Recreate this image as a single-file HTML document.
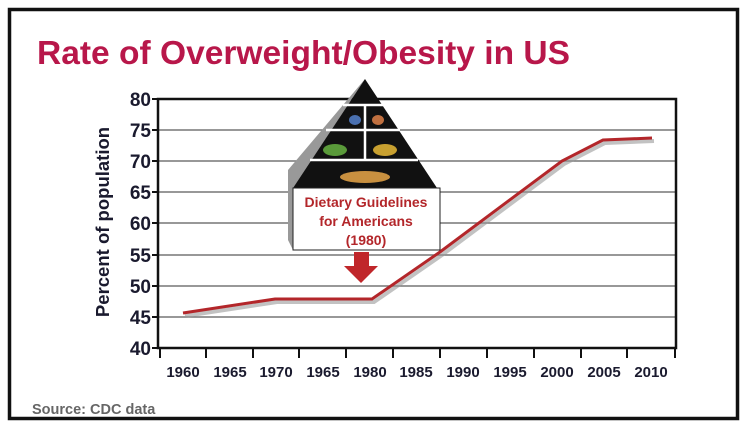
<!DOCTYPE html>
<html><head><meta charset="utf-8"><style>
body{margin:0;background:#fff;}
svg{display:block;font-family:"Liberation Sans",Arial,sans-serif;}
</style></head><body>
<svg width="750" height="432" viewBox="0 0 750 432">
<rect x="0" y="0" width="750" height="432" fill="#fff"/>
<rect x="9.5" y="9.5" width="728" height="409" fill="none" stroke="#111" stroke-width="3.5"/>
<text x="37" y="64" font-size="33" font-weight="bold" fill="#b8174a" textLength="533" lengthAdjust="spacingAndGlyphs">Rate of Overweight/Obesity in US</text>
<g stroke="#777" stroke-width="1.5">
<line x1="158" y1="130" x2="676" y2="130"/><line x1="158" y1="161" x2="676" y2="161"/>
<line x1="158" y1="192" x2="676" y2="192"/><line x1="158" y1="223" x2="676" y2="223"/>
<line x1="158" y1="255" x2="676" y2="255"/><line x1="158" y1="286" x2="676" y2="286"/>
<line x1="158" y1="317" x2="676" y2="317"/>
</g>
<rect x="158" y="99" width="518" height="249" fill="none" stroke="#111" stroke-width="2.5"/>
<g stroke="#111" stroke-width="2">
<line x1="152" y1="99" x2="158" y2="99"/><line x1="152" y1="130" x2="158" y2="130"/><line x1="152" y1="161" x2="158" y2="161"/><line x1="152" y1="192" x2="158" y2="192"/><line x1="152" y1="223" x2="158" y2="223"/><line x1="152" y1="255" x2="158" y2="255"/><line x1="152" y1="286" x2="158" y2="286"/><line x1="152" y1="317" x2="158" y2="317"/><line x1="152" y1="348" x2="158" y2="348"/>
<line x1="160" y1="348" x2="160" y2="358"/><line x1="206" y1="348" x2="206" y2="358"/><line x1="253" y1="348" x2="253" y2="358"/><line x1="299" y1="348" x2="299" y2="358"/><line x1="346" y1="348" x2="346" y2="358"/><line x1="393" y1="348" x2="393" y2="358"/><line x1="440" y1="348" x2="440" y2="358"/><line x1="487" y1="348" x2="487" y2="358"/><line x1="534" y1="348" x2="534" y2="358"/><line x1="581" y1="348" x2="581" y2="358"/><line x1="627" y1="348" x2="627" y2="358"/><line x1="675" y1="348" x2="675" y2="358"/>
</g>
<g font-size="19" font-weight="bold" fill="#1a1a2e" text-anchor="end">
<text x="151" y="106">80</text><text x="151" y="137">75</text><text x="151" y="168">70</text><text x="151" y="199">65</text><text x="151" y="230">60</text><text x="151" y="262">55</text><text x="151" y="293">50</text><text x="151" y="324">45</text><text x="151" y="355">40</text>
</g>
<g font-size="15" font-weight="bold" fill="#1a1a2e" text-anchor="middle">
<text x="183" y="377">1960</text><text x="230" y="377">1965</text><text x="276" y="377">1970</text><text x="323" y="377">1965</text><text x="370" y="377">1980</text><text x="416" y="377">1985</text><text x="463" y="377">1990</text><text x="510" y="377">1995</text><text x="557" y="377">2000</text><text x="604" y="377">2005</text><text x="651" y="377">2010</text>
</g>
<text transform="translate(109,222) rotate(-90)" font-size="18.5" font-weight="bold" fill="#1a1a2e" text-anchor="middle">Percent of population</text>
<text x="32" y="414" font-size="14.5" font-weight="bold" fill="#666">Source: CDC data</text>
<polyline points="185,316 277,302 374,302 442,255 564,164 605,143 654,141" fill="none" stroke="#999" stroke-width="4" opacity="0.6"/>
<polyline points="183,313 275,299 372,299 440,252 562,161 603,140 652,138" fill="none" stroke="#b3262a" stroke-width="3"/>
<polygon points="288,170 365,79 293,188 293,250 288,240" fill="#999"/>
<polygon points="365,79 293,188 437,188" fill="#111"/>
<g stroke="#fff" stroke-width="2.5">
<line x1="343" y1="105" x2="383" y2="105"/><line x1="326" y1="130" x2="400" y2="130"/><line x1="310" y1="160" x2="418" y2="160"/>
<line x1="365" y1="105" x2="365" y2="160"/>
</g>
<ellipse cx="335" cy="150" rx="12" ry="6" fill="#5a9a3a"/><ellipse cx="385" cy="150" rx="12" ry="6" fill="#c8a030"/>
<ellipse cx="365" cy="177" rx="25" ry="6" fill="#c89040"/><ellipse cx="355" cy="120" rx="6" ry="5" fill="#4a70b0"/><ellipse cx="378" cy="120" rx="6" ry="5" fill="#c07040"/>
<rect x="293" y="188" width="147" height="62" fill="#fff" stroke="#222" stroke-width="1"/>
<g font-size="14" font-weight="bold" fill="#b3262a" text-anchor="middle">
<text x="366" y="207">Dietary Guidelines</text><text x="366" y="226">for Americans</text><text x="366" y="245">(1980)</text>
</g>
<polygon points="354,252 369,252 369,266 378,266 361,283 344,266 354,266" fill="#c0262a"/>
</svg>
</body></html>
